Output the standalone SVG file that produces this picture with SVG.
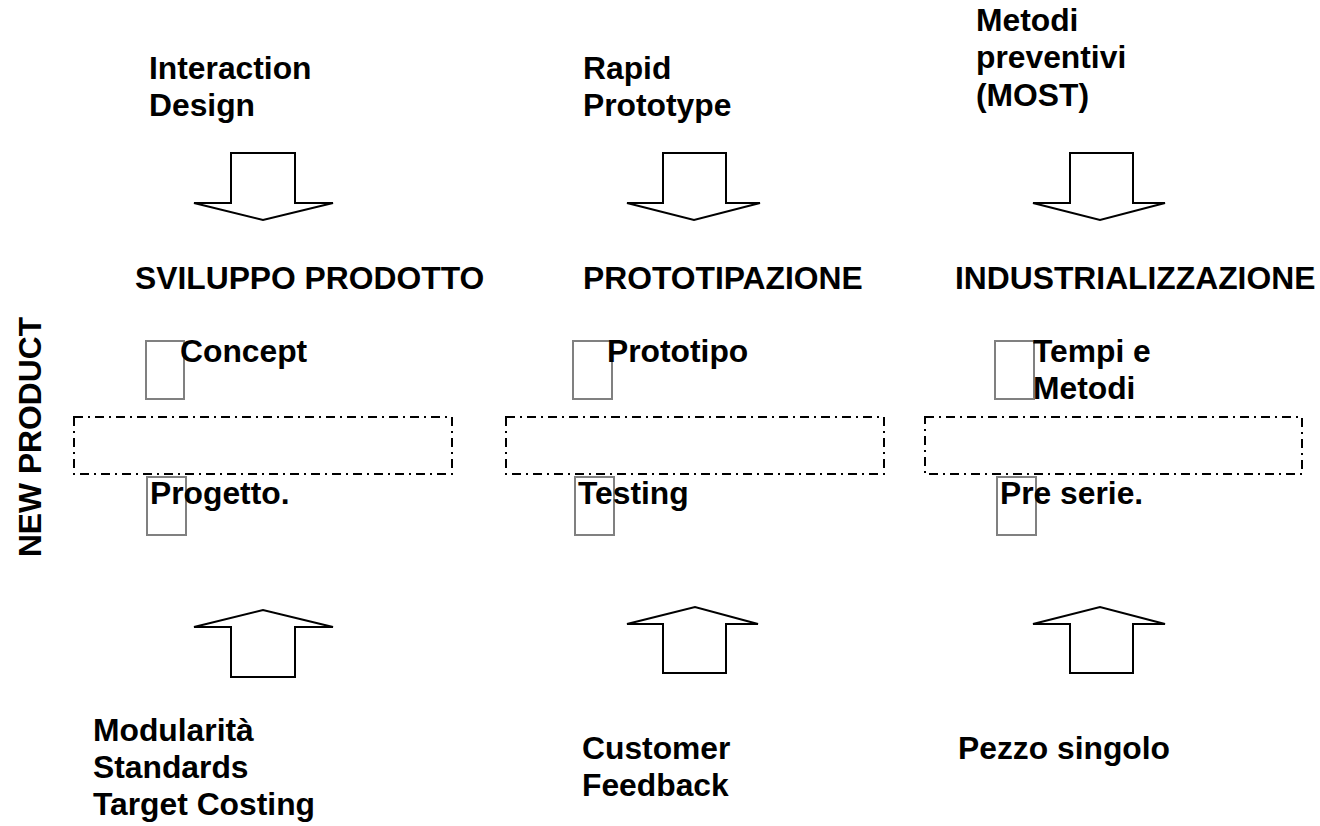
<svg xmlns="http://www.w3.org/2000/svg" width="1320" height="826" viewBox="0 0 1320 826">
<style>
text{font-family:"Liberation Sans",Arial,sans-serif;font-weight:bold;font-size:31.8px;fill:#000}
.arrow{fill:#fff;stroke:#000;stroke-width:2;stroke-linejoin:miter}
.frame{fill:none;stroke:#000;stroke-width:2;stroke-dasharray:9 5 2 5}
.small{fill:none;stroke:#808080;stroke-width:2}
</style>
<rect width="1320" height="826" fill="#fff"/>
<g id="connectors">
<polygon class="arrow" points="231,153 295,153 295,203 333,203 263,220 194,203 231,203"/>
<polygon class="arrow" points="663,153 726,153 726,203 760,203 694,220 627,203 663,203"/>
<polygon class="arrow" points="1070,153 1133,153 1133,203 1165,203 1100,220 1033,203 1070,203"/>
<polygon class="arrow" points="231,677 295,677 295,627 333,627 263,610 194,627 231,627"/>
<polygon class="arrow" points="663,673 726,673 726,624 758,624 695,607 627,624 663,624"/>
<polygon class="arrow" points="1070,673 1133,673 1133,624 1165,624 1100,607 1033,624 1070,624"/>
</g>
<g id="side-label"><text transform="translate(41,437) rotate(-90)" text-anchor="middle">NEW PRODUCT</text></g>
<g id="input-1"><text x="149" y="79">Interaction</text><text x="149" y="116">Design</text></g>
<g id="input-2"><text x="583" y="79">Rapid</text><text x="583" y="116">Prototype</text></g>
<g id="input-3"><text x="976" y="31">Metodi</text><text x="976" y="68">preventivi</text><text x="976" y="106">(MOST)</text></g>
<g id="phase-1"><text x="135" y="289">SVILUPPO PRODOTTO</text></g>
<g id="phase-2"><text x="583" y="289">PROTOTIPAZIONE</text></g>
<g id="phase-3"><text x="955" y="289">INDUSTRIALIZZAZIONE</text></g>
<g id="block-1">
<rect class="frame" x="74" y="417" width="378" height="57"/>
<rect class="small" x="146" y="341" width="38" height="58"/>
<text x="180" y="362">Concept</text>
<rect class="small" x="147" y="477" width="39" height="58"/>
<text x="150" y="504">Progetto.</text>
</g>
<g id="block-2">
<rect class="frame" x="506" y="417" width="378" height="57"/>
<rect class="small" x="573" y="341" width="39" height="58"/>
<text x="607" y="362">Prototipo</text>
<rect class="small" x="575" y="477" width="39" height="58"/>
<text x="578" y="504">Testing</text>
</g>
<g id="block-3">
<rect class="frame" x="925" y="417" width="377" height="57"/>
<rect class="small" x="995" y="341" width="39" height="58"/>
<text x="1033" y="362">Tempi e</text>
<text x="1033" y="399">Metodi</text>
<rect class="small" x="997" y="477" width="39" height="58"/>
<text x="1000" y="504">Pre serie.</text>
</g>
<g id="output-1"><text x="93" y="741">Modularità</text><text x="93" y="778">Standards</text><text x="93" y="815">Target Costing</text></g>
<g id="output-2"><text x="582" y="759">Customer</text><text x="582" y="796">Feedback</text></g>
<g id="output-3"><text x="958" y="759">Pezzo singolo</text></g>
</svg>
